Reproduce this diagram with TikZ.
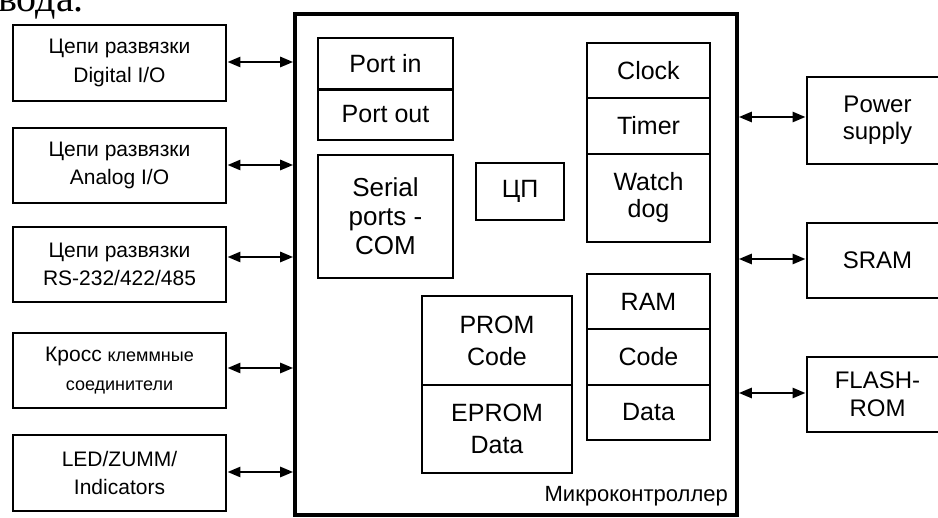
\documentclass[tikz,border=0pt]{standalone}
\usepackage{fontspec}
\setmainfont{Liberation Sans}
\newfontfamily\serifcut{Liberation Serif}
\usetikzlibrary{arrows.meta,calc}

\tikzset{
  ext/.style={draw, line width=2.9pt, align=center, inner sep=0pt,
              font=\fontsize{21}{28.5}\selectfont},
  mcubox/.style={draw, line width=3.6pt, inner sep=0pt},
  part/.style={draw, line width=1.9pt, align=center, inner sep=0pt,
               font=\fontsize{25}{30}\selectfont},
  sz/.style 2 args={minimum width=#1pt, minimum height=#2pt},
  link/.style={line width=2.6pt,
               {Triangle[length=13pt,width=10pt]}-{Triangle[length=13pt,width=10pt]}},
}

\begin{document}
\begin{tikzpicture}[x=1pt, y=-1pt]
\useasboundingbox (0,0) rectangle (938,518);
\clip (0,0) rectangle (938,518);

% tail of the preceding sentence
\node[anchor=base east, inner sep=0pt, font=\serifcut\fontsize{40}{40}\selectfont]
  (tail) at (84,12) {вывода.};

% microcontroller body
\node[mcubox, sz={442}{501}] (mcu) at (516,264.5) {};
\node[anchor=base east, inner sep=0pt, font=\fontsize{22}{24}\selectfont]
  (mlabel) at (728,502) {Микроконтроллер};

% peripheral circuits on the left
\node[ext, sz={213}{76}] (b1) at (119.5,63)    {Цепи развязки\\Digital I/O};
\node[ext, sz={213}{75}] (b2) at (119.5,165.5) {Цепи развязки\\Analog I/O};
\node[ext, sz={213}{75}] (b3) at (119.5,264.5) {Цепи развязки\\RS-232/422/485};
\node[ext, sz={213}{75}] (b4) at (119.5,370.5)
  {Кросс {\fontsize{18}{28.5}\selectfont клеммные}\\{\fontsize{18}{28.5}\selectfont соединители}};
\node[ext, sz={213}{76}] (b5) at (119.5,473)   {LED/ZUMM/\\Indicators};

% external units on the right
\node[ext, sz={141}{87}, font=\fontsize{24}{27}\selectfont] (pwr) at (877.5,120.5) {Power\\supply};
\node[ext, sz={141}{75}, font=\fontsize{24}{27}\selectfont] (sram) at (877.5,260.5) {SRAM};
\node[ext, sz={141}{75}, font=\fontsize{24}{28}\selectfont] (flash) at (877.5,394.5) {FLASH-\\ROM};

% internal blocks
\node[part, sz={135}{51}] (pin)  at (385.5,63.5)  {Port in};
\node[part, sz={135}{51}] (pout) at (385.5,114.5) {Port out};
\draw[line width=2.8pt] (pin.south west) -- (pin.south east);
\node[part, sz={135}{123}, font=\fontsize{26}{29}\selectfont] (ser) at (385.5,216.5) {Serial\\ports -\\COM};
\node[part, sz={88}{57}] (cpu) at (520,191.5) {ЦП};

\node[part, sz={123}{55}] (clk) at (648.5,70.5) {Clock};
\node[part, sz={123}{56}] (tmr) at (648.5,126)  {Timer};
\node[part, sz={123}{88}, font=\fontsize{25}{27}\selectfont] (wdg) at (648.5,198) {Watch\\dog};

\node[part, sz={123}{55}] (ram)  at (648.5,301.5) {RAM};
\node[part, sz={123}{56}] (rcod) at (648.5,357)   {Code};
\node[part, sz={123}{55}] (rdat) at (648.5,412.5) {Data};

\node[part, sz={150}{89}, font=\fontsize{25}{32}\selectfont] (prom)  at (497,340.5) {PROM\\Code};
\node[part, sz={150}{88}, font=\fontsize{25}{32}\selectfont] (eprom) at (497,429)   {EPROM\\Data};

% bidirectional links to the left side
\draw[link] ([yshift=1pt]b1.east) -- ([yshift=1pt]b1.east -| mcu.west);
\draw[link] ([yshift=0.5pt]b2.east) -- ([yshift=0.5pt]b2.east -| mcu.west);
\draw[link] ([yshift=7.5pt]b3.east) -- ([yshift=7.5pt]b3.east -| mcu.west);
\draw[link] ([yshift=2.5pt]b4.east) -- ([yshift=2.5pt]b4.east -| mcu.west);
\draw[link] ([yshift=1pt]b5.east) -- ([yshift=1pt]b5.east -| mcu.west);

% bidirectional links to the right side
\draw[link] ([yshift=3.5pt]pwr.west -| mcu.east) -- ([yshift=3.5pt]pwr.west);
\draw[link] ([yshift=1.5pt]sram.west -| mcu.east) -- ([yshift=1.5pt]sram.west);
\draw[link] ([yshift=1.5pt]flash.west -| mcu.east) -- ([yshift=1.5pt]flash.west);
\end{tikzpicture}
\end{document}
